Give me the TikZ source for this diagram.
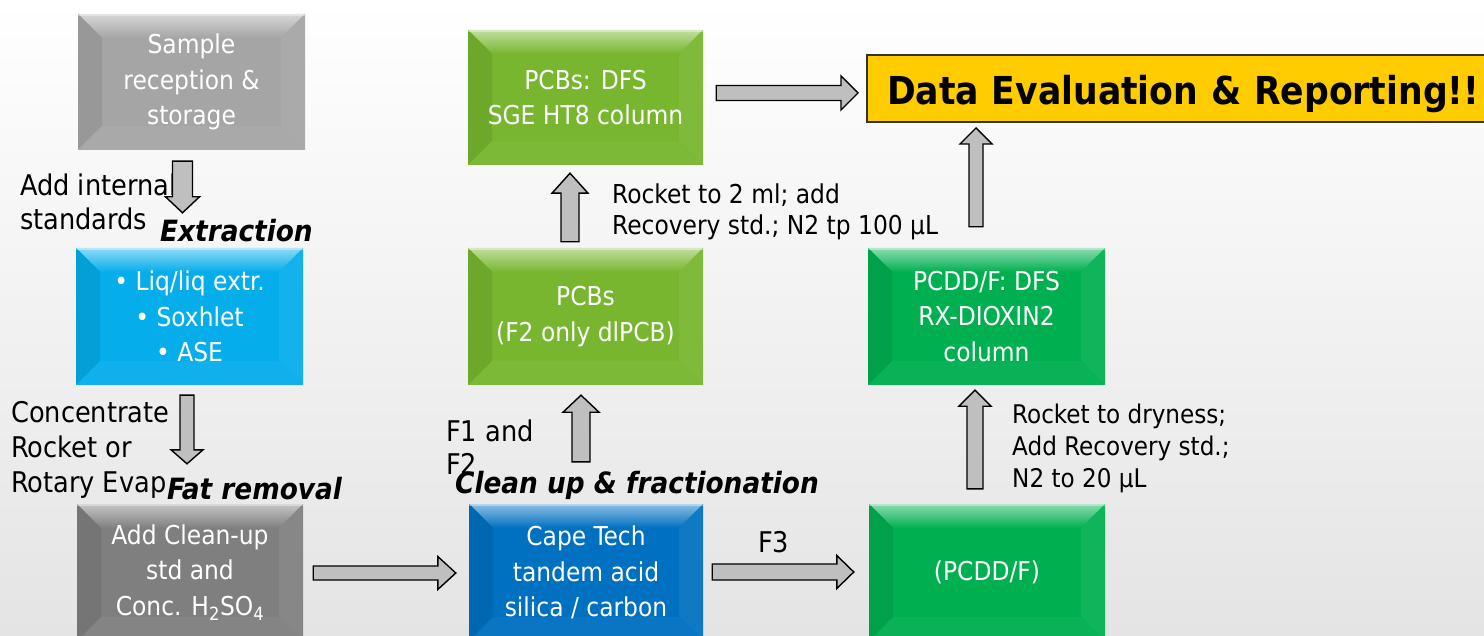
\documentclass[tikz,border=0pt]{standalone}
\usepackage{fontspec}
\setmainfont{DejaVu Sans Condensed}
\usetikzlibrary{calc}
\definecolor{bgbot}{HTML}{E4E4E4}
\definecolor{arrowgray}{HTML}{BFBFBF}
\definecolor{graylight}{HTML}{A5A5A5}
\definecolor{graydark}{HTML}{7F7F7F}
\definecolor{cyanbox}{HTML}{05ADEB}
\definecolor{greenlight}{HTML}{77B62E}
\definecolor{bluebox}{HTML}{0070C0}
\definecolor{greenbox}{HTML}{00AF50}
\definecolor{yellowbox}{HTML}{FFCC00}
\tikzset{
  bsw/.store in=\bsw, bhw/.store in=\bhw, bhl/.store in=\bhl,
  bsw=8, bhw=16.5, bhl=17,
  barrow/.style={draw=black, line width=1.4pt, fill=arrowgray, line join=miter,
    to path={let \p1=(\tikztostart), \p2=(\tikztotarget),
      \n1={veclen(\x2-\x1,\y2-\y1)}, \n2={(\x2-\x1)/\n1}, \n3={(\y2-\y1)/\n1} in
      ({\x1-(\n3)*\bsw},{\y1+(\n2)*\bsw})
      -- ({\x2-(\n2)*\bhl-(\n3)*\bsw},{\y2-(\n3)*\bhl+(\n2)*\bsw})
      -- ({\x2-(\n2)*\bhl-(\n3)*\bhw},{\y2-(\n3)*\bhl+(\n2)*\bhw})
      -- (\p2)
      -- ({\x2-(\n2)*\bhl+(\n3)*\bhw},{\y2-(\n3)*\bhl-(\n2)*\bhw})
      -- ({\x2-(\n2)*\bhl+(\n3)*\bsw},{\y2-(\n3)*\bhl-(\n2)*\bsw})
      -- ({\x1+(\n3)*\bsw},{\y1-(\n2)*\bsw}) -- cycle}},
  bevelbox/.style={rectangle, inner sep=0pt, fill=#1, text=white,
    font=\fontsize{26}{35.5}\selectfont, align=center,
    path picture={
      \path (path picture bounding box.north west) coordinate (bnw)
            (path picture bounding box.north east) coordinate (bne)
            (path picture bounding box.south west) coordinate (bsw)
            (path picture bounding box.south east) coordinate (bse);
      \shade[top color=#1!45!white, bottom color=#1] (bnw) -- (bne) -- ($(bne)+(-24,24)$) -- ($(bnw)+(24,24)$) -- cycle;
      \fill[#1!92!black] (bnw) -- ($(bnw)+(24,24)$) -- ($(bsw)+(24,-24)$) -- (bsw) -- cycle;
      \fill[#1!94!white] (bne) -- ($(bne)+(-24,24)$) -- ($(bse)+(-24,-24)$) -- (bse) -- cycle;
      \fill[#1!96!white] (bsw) -- ($(bsw)+(24,-24)$) -- ($(bse)+(-24,-24)$) -- (bse) -- cycle;
      \fill[white,opacity=.35] (bnw) rectangle ($(bne)+(0,2)$);
    }},
  lbl/.style={inner sep=0pt, align=left, font=\fontsize{28.5}{34}\selectfont, text=black},
  stage/.style={inner sep=0pt, font=\fontsize{29.3}{30}\bfseries\itshape\selectfont, text=black},
}
\begin{document}
\begin{tikzpicture}[x=1pt,y=-1pt]
\useasboundingbox (0,0) rectangle (1484,636);
\clip (0,0) rectangle (1484,636);
\shade[top color=white, bottom color=bgbot] (0,0) rectangle (1484,636);

% boxes
\node[bevelbox=graylight, minimum width=227pt, minimum height=136pt] (sample) at (191.5,82) {Sample\\reception \&\\storage};
\node[bevelbox=cyanbox, minimum width=227pt, minimum height=137pt] (liq) at (189.5,316.5) {• Liq/liq extr.\\• Soxhlet\\• ASE};
\node[bevelbox=graydark, minimum width=226pt, minimum height=137pt] (cleanup) at (190,572.5) {Add Clean-up\\std and\\Conc. H\textsubscript{2}SO\textsubscript{4}};
\node[bevelbox=greenlight, minimum width=235pt, minimum height=135pt] (pcbdfs) at (585.5,97.5) {PCBs: DFS\\SGE HT8 column};
\node[bevelbox=greenlight, minimum width=235pt, minimum height=137pt] (pcbs) at (585.5,316.5) {PCBs\\(F2 only dlPCB)};
\node[bevelbox=bluebox, minimum width=234pt, minimum height=137pt] (cape) at (586,572.5) {Cape Tech\\tandem acid\\silica / carbon};
\node[bevelbox=greenbox, minimum width=237pt, minimum height=137pt] (pcdddfs) at (986.5,316.5) {PCDD/F: DFS\\RX-DIOXIN2\\column};
\node[bevelbox=greenbox, minimum width=236pt, minimum height=137pt] (pcdd) at (987,572.5) {(PCDD/F)};
\node[rectangle, anchor=west, fill=yellowbox, draw=black!80, line width=2pt,
      minimum height=67pt, text width=620pt, inner xsep=20pt, inner ysep=0pt, align=left,
      text height=33pt, text depth=0pt,
      font=\fontsize{38.5}{40}\bfseries\selectfont] (data) at (866,88.5) {Data Evaluation \& Reporting!!};

% labels (anchored at the baseline of the last line)
\node[lbl, anchor=base west] (l1) at (20,230) {Add internal\\standards};
\node[lbl, anchor=base west, font=\fontsize{28.5}{35}\selectfont] (l2) at (11,492) {Concentrate\\Rocket or\\Rotary Evap};
\node[lbl, anchor=base west, font=\fontsize{28.5}{33}\selectfont] (l3) at (446,474) {F1 and\\F2};
\node[lbl, anchor=base west] (l4) at (758,552) {F3};
\node[lbl, anchor=base west, font=\fontsize{26}{31}\selectfont] (l5) at (612,235) {Rocket to 2 ml; add\\Recovery std.; N2 tp 100 µL};
\node[lbl, anchor=base west, font=\fontsize{25.7}{32}\selectfont] (l6) at (1012,487) {Rocket to dryness;\\Add Recovery std.;\\N2 to 20 µL};
\node[stage, anchor=base west] (s1) at (160,242) {Extraction};
\node[stage, anchor=base west] (s2) at (167,499) {Fat removal};
\node[stage, anchor=base west] (s3) at (455,493) {Clean up \& fractionation};

% arrows
\draw[barrow, bsw=10, bhw=17, bhl=16] ($(sample.south)+(-9,11)$) to ($(liq.north)+(-7,-35)$);
\draw[barrow, bsw=7, bhw=16, bhl=14] ($(liq.south)+(-2.5,10)$) to ($(cleanup.north)+(-3,-40)$);
\draw[barrow, bsw=7, bhw=16.5, bhl=18] ($(cleanup.east)+(10,0.5)$) to ($(cape.west)+(-13,0.5)$);
\draw[barrow, bsw=9, bhw=18, bhl=17] ($(cape.north)+(-5,-42)$) to ($(pcbs.south)+(-4.5,10)$);
\draw[barrow, bsw=9, bhw=18, bhl=20] ($(pcbs.north)+(-15.5,-6)$) to ($(pcbdfs.south)+(-15.5,8)$);
\draw[barrow, bsw=8, bhw=16.5, bhl=17] ($(cape.east)+(9,-0.5)$) to ($(pcdd.west)+(-15,-0.5)$);
\draw[barrow, bsw=8, bhw=16, bhl=16] ($(pcdd.north)+(-12,-15)$) to ($(pcdddfs.south)+(-11.5,5)$);
\draw[barrow, bsw=7, bhw=16, bhl=16] ($(pcdddfs.north)+(-10.5,-21)$) to ($(data.south west)+(110,5)$);
\draw[barrow, bsw=7.5, bhw=17, bhl=17] ($(pcbdfs.east)+(13,-4.5)$) to ($(data.west)+(-8,4.5)$);
\end{tikzpicture}
\end{document}
